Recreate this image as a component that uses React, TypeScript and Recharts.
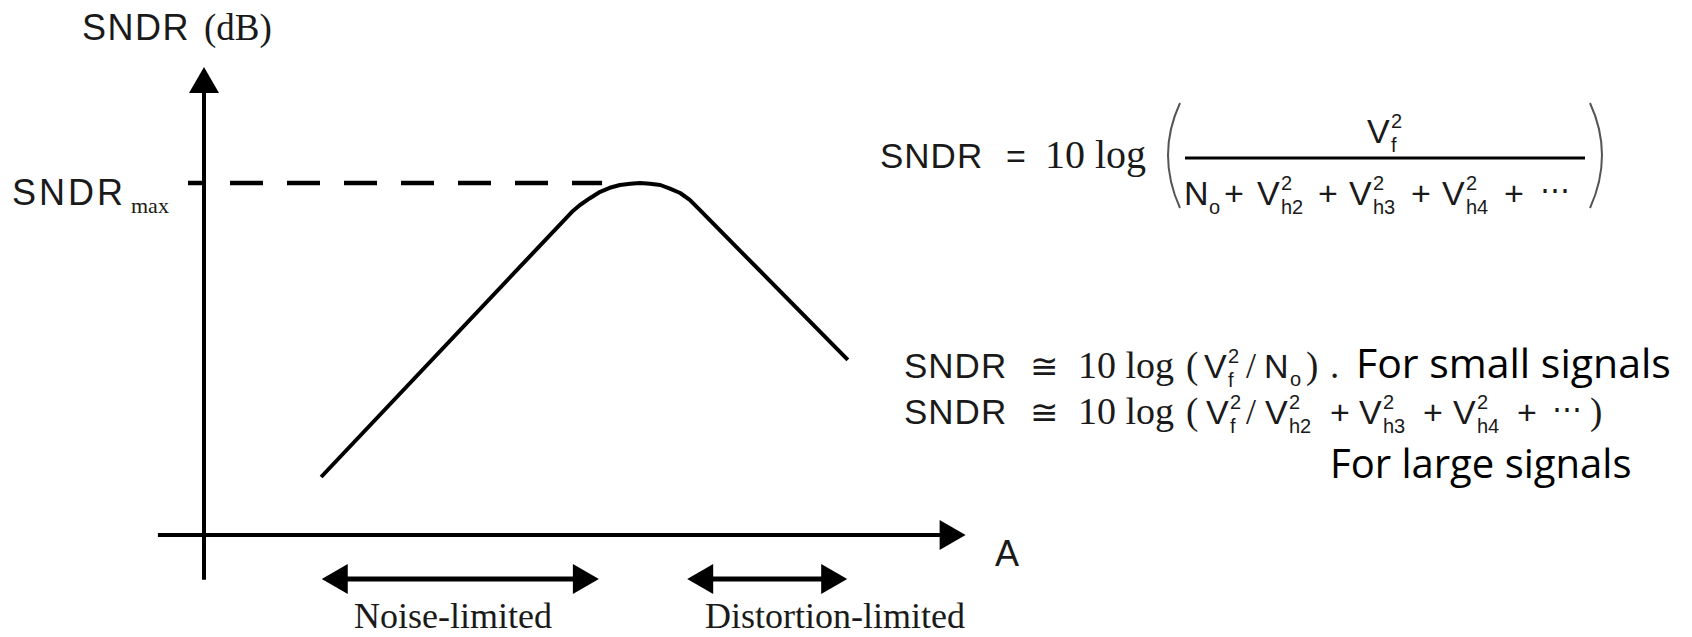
import React from 'react';
import { ComposedChart, Line, Scatter, XAxis, YAxis, ReferenceLine } from 'recharts';

// Signal amplitude A (arbitrary units) and SNDR (dB)
const curveA = [1.83, 5.75, 5.875, 6.03, 6.19, 6.34, 6.5, 6.66, 6.81, 6.97, 7.13, 7.28, 7.44, 7.59, 7.75, 10.06];
const curveSNDR = [7.25, 40.4, 41.25, 42.1, 42.9, 43.4, 43.75, 43.9, 44.0, 43.9, 43.75, 43.3, 42.75, 41.9, 40.6, 21.9];

const sndrMax = 44;
const dashStartA = -0.25;
const dashEndA = 6.22;

// region arrows (A range), drawn below the axis at this SNDR level
const regionLevel = -5.5;
const noiseRange = [1.84, 6.17];
const distortionRange = [7.55, 10.05];

// axes extents
const xAxisStart = -0.72;
const xAxisTip = 11.9;
const yAxisBottom = -5.6;
const yAxisTip = 58.5;

const curveData = curveA.map((a, i) => ({ a, v: curveSNDR[i] }));

const arrowTipA = [0, xAxisTip, noiseRange[0], noiseRange[1], distortionRange[0], distortionRange[1]];
const arrowTipV = [yAxisTip, 0, regionLevel, regionLevel, regionLevel, regionLevel];
const arrowDir = ['up', 'right', 'left', 'right', 'left', 'right'];
const arrowData = arrowTipA.map((a, i) => ({ a, v: arrowTipV[i], dir: arrowDir[i] }));

const HEAD_LEN = 26;
const HEAD_HALF = 15;

const ArrowHead = (props: any) => {
  const { cx, cy, payload } = props;
  if (cx == null || cy == null) return null;
  const d = payload?.dir;
  let pts = '';
  if (d === 'up') pts = `${cx},${cy} ${cx - HEAD_HALF},${cy + HEAD_LEN} ${cx + HEAD_HALF},${cy + HEAD_LEN}`;
  else if (d === 'right') pts = `${cx},${cy} ${cx - HEAD_LEN},${cy - HEAD_HALF} ${cx - HEAD_LEN},${cy + HEAD_HALF}`;
  else pts = `${cx},${cy} ${cx + HEAD_LEN},${cy - HEAD_HALF} ${cx + HEAD_LEN},${cy + HEAD_HALF}`;
  return <polygon points={pts} fill="#000" />;
};

const SANS = '"Liberation Sans", Arial, sans-serif';
const SERIF = '"Liberation Serif", "Times New Roman", serif';
const OPEN = '"Open Sans", sans-serif';
const INK = '#1a1a1a';

const T = (p: { x: number; y: number; s: number; f?: string; ls?: number; anchor?: any; children: any; fill?: string }) => (
  <text
    x={p.x}
    y={p.y}
    fontSize={p.s}
    fontFamily={p.f || SANS}
    letterSpacing={p.ls || 0}
    textAnchor={p.anchor || 'start'}
    fill={p.fill || INK}
  >
    {p.children}
  </text>
);

// V with superscript 2 and a subscript
const V = ({ x, y, sub }: { x: number; y: number; sub: string }) => (
  <g>
    <T x={x} y={y} s={34}>V</T>
    <T x={x + 24} y={y - 15} s={20}>2</T>
    <T x={x + 24} y={y + 9} s={20}>{sub}</T>
  </g>
);

export default function App() {
  return (
    <div style={{ position: 'absolute', left: 0, top: 0, width: 1692, height: 637, background: '#fff' }}>
      <ComposedChart
        width={1692}
        height={637}
        margin={{ top: 55, right: 720, bottom: 6, left: 76 }}
      >
        <XAxis type="number" dataKey="a" domain={[-2, 12]} hide allowDataOverflow />
        <YAxis type="number" domain={[-12, 60]} hide allowDataOverflow />
        {/* axes */}
        <ReferenceLine
          segment={[{ x: 0, y: yAxisBottom }, { x: 0, y: yAxisTip - 3 }]}
          stroke="#000"
          strokeWidth={4}
          ifOverflow="visible"
        />
        <ReferenceLine
          segment={[{ x: xAxisStart, y: 0 }, { x: xAxisTip - 0.35, y: 0 }]}
          stroke="#000"
          strokeWidth={4}
          ifOverflow="visible"
        />
        {/* SNDRmax dashed level */}
        <ReferenceLine
          segment={[{ x: dashStartA, y: sndrMax }, { x: dashEndA, y: sndrMax }]}
          stroke="#000"
          strokeWidth={4.5}
          strokeDasharray="33 24"
          strokeDashoffset={15}
          ifOverflow="visible"
        />
        {/* region arrows shafts */}
        <ReferenceLine
          segment={[{ x: noiseRange[0] + 0.3, y: regionLevel }, { x: noiseRange[1] - 0.3, y: regionLevel }]}
          stroke="#000"
          strokeWidth={5}
          ifOverflow="visible"
        />
        <ReferenceLine
          segment={[{ x: distortionRange[0] + 0.3, y: regionLevel }, { x: distortionRange[1] - 0.3, y: regionLevel }]}
          stroke="#000"
          strokeWidth={5}
          ifOverflow="visible"
        />
        <Line
          data={curveData}
          dataKey="v"
          type="linear"
          stroke="#000"
          strokeWidth={4}
          strokeLinejoin="round"
          dot={false}
          activeDot={false}
          isAnimationActive={false}
        />
        <Scatter data={arrowData} dataKey="v" shape={ArrowHead} isAnimationActive={false} />
      </ComposedChart>

      <svg
        width={1692}
        height={637}
        style={{ position: 'absolute', left: 0, top: 0, pointerEvents: 'none' }}
      >
        {/* axis titles */}
        <T x={82} y={40} s={36} ls={1.5}>SNDR</T>
        <T x={204} y={40} s={37} f={SERIF}>(dB)</T>
        <T x={12} y={205} s={36} ls={3}>SNDR</T>
        <T x={131} y={213} s={22} f={SERIF}>max</T>
        <T x={995} y={566} s={36}>A</T>
        <T x={453} y={628} s={36} f={SERIF} anchor="middle">Noise-limited</T>
        <T x={835} y={628} s={36} f={SERIF} anchor="middle">Distortion-limited</T>

        {/* Formula 1 */}
        <T x={880} y={168} s={35} ls={1}>SNDR</T>
        <T x={1006} y={168} s={34}>=</T>
        <T x={1045} y={168} s={40} f={SERIF}>10 log</T>
        <path d="M 1180 103 Q 1156 155 1180 208" stroke="#555" strokeWidth={2} fill="none" />
        <path d="M 1590 103 Q 1614 155 1590 208" stroke="#555" strokeWidth={2} fill="none" />
        <line x1={1185} x2={1585} y1={158} y2={158} stroke="#000" strokeWidth={3} />
        <V x={1367} y={143} sub="f" />
        <T x={1184} y={205} s={34}>N</T>
        <T x={1209} y={214} s={20}>o</T>
        <T x={1224} y={205} s={34}>+</T>
        <V x={1257} y={205} sub="h2" />
        <T x={1318} y={205} s={34}>+</T>
        <V x={1349} y={205} sub="h3" />
        <T x={1411} y={205} s={34}>+</T>
        <V x={1442} y={205} sub="h4" />
        <T x={1504} y={205} s={34}>+</T>
        <T x={1540} y={200} s={30} f={SERIF}>⋯</T>

        {/* Formula 2 */}
        <T x={904} y={378} s={35} ls={1}>SNDR</T>
        <T x={1030} y={378} s={34} f={SERIF}>≅</T>
        <T x={1078} y={378} s={38} f={SERIF}>10 log</T>
        <T x={1186} y={378} s={37} f={SERIF}>(</T>
        <V x={1204} y={378} sub="f" />
        <T x={1246} y={378} s={36} f={SERIF}>/</T>
        <T x={1264} y={378} s={34}>N</T>
        <T x={1290} y={386} s={20}>o</T>
        <T x={1306} y={378} s={37} f={SERIF}>)</T>
        <T x={1330} y={378} s={37} f={SERIF}>.</T>
        <T x={1356} y={378} s={41} f={OPEN} fill="#000">For small signals</T>

        {/* Formula 3 */}
        <T x={904} y={424} s={35} ls={1}>SNDR</T>
        <T x={1030} y={424} s={34} f={SERIF}>≅</T>
        <T x={1078} y={424} s={38} f={SERIF}>10 log</T>
        <T x={1186} y={424} s={37} f={SERIF}>(</T>
        <V x={1206} y={424} sub="f" />
        <T x={1246} y={424} s={36} f={SERIF}>/</T>
        <V x={1265} y={424} sub="h2" />
        <T x={1330} y={424} s={34}>+</T>
        <V x={1359} y={424} sub="h3" />
        <T x={1423} y={424} s={34}>+</T>
        <V x={1453} y={424} sub="h4" />
        <T x={1517} y={424} s={34}>+</T>
        <T x={1552} y={419} s={30} f={SERIF}>⋯</T>
        <T x={1590} y={424} s={37} f={SERIF}>)</T>

        <T x={1330} y={478} s={40} f={OPEN} fill="#000">For large signals</T>
      </svg>
    </div>
  );
}
